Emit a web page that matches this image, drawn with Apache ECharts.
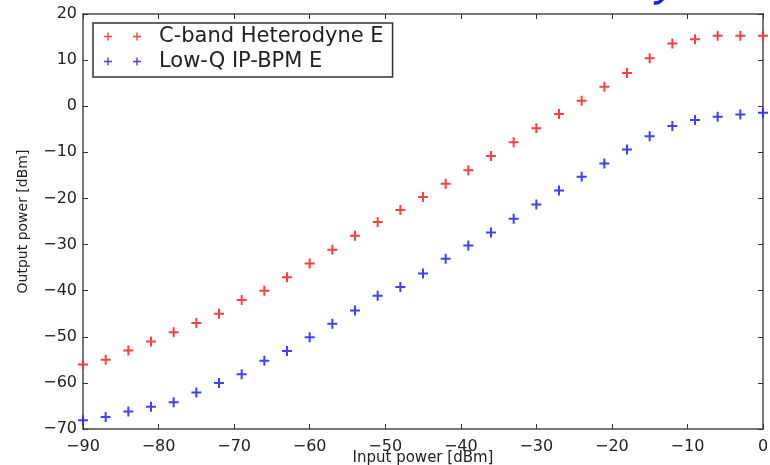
<!DOCTYPE html>
<html>
<head>
<meta charset="utf-8">
<script src="https://cdn.jsdelivr.net/npm/echarts@6/dist/echarts.min.js"></script>
<style>
html,body{margin:0;padding:0;background:#fff;}
#chart{width:770px;height:465px;}
</style>
</head>
<body>
<div id="chart"></div>
<script>
const inputPower = [-90,-87,-84,-81,-78,-75,-72,-69,-66,-63,-60,-57,-54,-51,-48,-45,-42,-39,-36,-33,-30,-27,-24,-21,-18,-15,-12,-9,-6,-3,0];
const cbandHeterodyne = [-56,-55,-53,-51,-49,-47,-45,-42,-40,-37.1,-34.1,-31.1,-28.1,-25.1,-22.5,-19.7,-16.8,-13.9,-10.8,-7.8,-4.8,-1.7,1.2,4.2,7.2,10.4,13.6,14.5,15.3,15.3,15.3];
const lowQIPBPM = [-68.1,-67.4,-66.2,-65.2,-64.2,-62.1,-60,-58.1,-55.2,-53.1,-50.1,-47.2,-44.3,-41.1,-39.2,-36.3,-33.1,-30.2,-27.4,-24.4,-21.3,-18.3,-15.3,-12.4,-9.4,-6.5,-4.3,-3.0,-2.3,-1.8,-1.4];
const seriesNames = ['C-band Heterodyne E','Low-Q IP-BPM E'];
const xTicks = {min:-90, max:0, step:10};
const yTicks = {min:-70, max:20, step:10};

const FONT = 'DejaVu Sans';
const minusFmt = v => String(v).replace('-', '\u2212');
const plus = 'path://M4,0H6V4H10V6H6V10H4V6H0V4H4Z';
const plus2 = 'path://M3.3,0H4.7V3.3H8V4.7H4.7V8H3.3V4.7H0V3.3H3.3Z M32.3,0H33.7V3.3H37V4.7H33.7V8H32.3V4.7H29V3.3H32.3Z';
const axisLineStyle = {color:'#4a4a4a', width:1.5};

const chart = echarts.init(document.getElementById('chart'), null, {renderer:'canvas'});
chart.setOption({
  backgroundColor:'#ffffff',
  animation:false,
  grid:{left:83, right:7, top:14, bottom:36, containLabel:false, outerBoundsMode:'none'},
  legend:{
    orient:'vertical', left:93, top:23,
    data:seriesNames.map(n=>({name:n, icon:plus2})),
    itemWidth:37, itemHeight:8, itemGap:4,
    borderColor:'#333', borderWidth:1.5, borderRadius:0,
    padding:[3,9,5,11],
    textStyle:{fontFamily:FONT, fontSize:21, color:'#222', padding:[0,0,0,13]}
  },
  xAxis:[{
    type:'value', min:xTicks.min, max:xTicks.max, interval:xTicks.step,
    name:'Input power [dBm]', nameLocation:'middle', nameGap:22, nameMoveOverlap:false,
    nameTextStyle:{fontFamily:FONT, fontSize:15, color:'#222'},
    axisLine:{show:true, onZero:false, lineStyle:axisLineStyle},
    axisTick:{show:true, inside:true, length:5, lineStyle:{color:'#333'}},
    axisLabel:{fontFamily:FONT, fontSize:16, color:'#222', margin:10, formatter:minusFmt},
    splitLine:{show:false}
  },{
    type:'value', position:'top', min:xTicks.min, max:xTicks.max, interval:xTicks.step,
    axisLine:{show:true, onZero:false, lineStyle:axisLineStyle},
    axisTick:{show:true, inside:true, length:5, lineStyle:{color:'#333'}},
    axisLabel:{show:false}, splitLine:{show:false}
  }],
  yAxis:[{
    type:'value', min:yTicks.min, max:yTicks.max, interval:yTicks.step,
    name:'Output power [dBm]', nameLocation:'middle', nameGap:53, nameRotate:90, nameMoveOverlap:false,
    nameTextStyle:{fontFamily:FONT, fontSize:14, color:'#222'},
    axisLine:{show:true, onZero:false, lineStyle:axisLineStyle},
    axisTick:{show:true, inside:true, length:5, lineStyle:{color:'#333'}},
    axisLabel:{fontFamily:FONT, fontSize:16, color:'#222', margin:6, formatter:minusFmt},
    splitLine:{show:false}
  },{
    type:'value', position:'right', min:yTicks.min, max:yTicks.max, interval:yTicks.step,
    axisLine:{show:true, onZero:false, lineStyle:axisLineStyle},
    axisTick:{show:true, inside:true, length:5, lineStyle:{color:'#333'}},
    axisLabel:{show:false}, splitLine:{show:false}
  }],
  series:[{
    name:seriesNames[0], type:'scatter', clip:true,
    symbol:plus, symbolSize:10,
    itemStyle:{color:'#ff2a2a', opacity:0.9},
    data:inputPower.map((x,i)=>[x, cbandHeterodyne[i]])
  },{
    name:seriesNames[1], type:'scatter', clip:true,
    symbol:plus, symbolSize:10,
    itemStyle:{color:'#2a2aff', opacity:0.9},
    data:inputPower.map((x,i)=>[x, lowQIPBPM[i]])
  }],
  graphic:[{
    type:'arc', silent:true,
    shape:{cx:655, cy:-6, r:9, startAngle:0.35, endAngle:1.7},
    style:{stroke:'#1a1aff', lineWidth:3.5, fill:null}
  }]
});
</script>
</body>
</html>
